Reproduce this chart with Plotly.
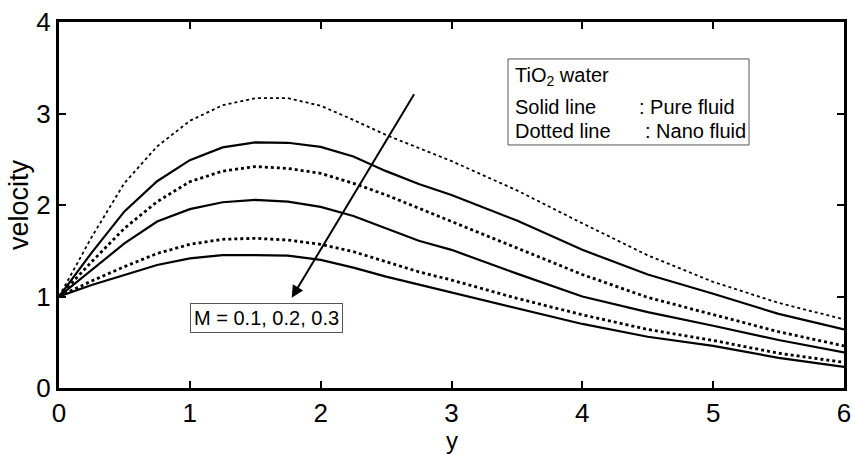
import plotly.graph_objects as go

# ---- data ----
y_pos = [0, 0.25, 0.5, 0.75, 1, 1.25, 1.5, 1.75, 2, 2.25, 2.5, 2.75, 3, 3.5, 4, 4.5, 5, 5.5, 6]

pure_M01 = [1, 1.48, 1.93, 2.26, 2.49, 2.63, 2.685, 2.68, 2.635, 2.53, 2.37, 2.23, 2.11, 1.83, 1.51, 1.24, 1.03, 0.81, 0.64]
pure_M02 = [1, 1.29, 1.58, 1.82, 1.955, 2.03, 2.055, 2.036, 1.98, 1.88, 1.745, 1.61, 1.51, 1.25, 1.0, 0.83, 0.68, 0.525, 0.39]
pure_M03 = [1, 1.125, 1.235, 1.344, 1.417, 1.453, 1.453, 1.446, 1.40, 1.315, 1.217, 1.13, 1.05, 0.87, 0.70, 0.56, 0.46, 0.33, 0.23]

nano_M01 = [1, 1.65, 2.24, 2.64, 2.92, 3.09, 3.167, 3.167, 3.085, 2.93, 2.765, 2.62, 2.48, 2.16, 1.80, 1.45, 1.16, 0.93, 0.75]
nano_M02 = [1, 1.38, 1.745, 2.036, 2.255, 2.37, 2.42, 2.40, 2.346, 2.237, 2.11, 1.964, 1.82, 1.53, 1.24, 0.99, 0.80, 0.615, 0.46]
nano_M03 = [1, 1.17, 1.326, 1.47, 1.57, 1.625, 1.636, 1.617, 1.57, 1.49, 1.38, 1.27, 1.18, 0.98, 0.80, 0.64, 0.52, 0.38, 0.28]

x_ticks = [0, 1, 2, 3, 4, 5, 6]
y_ticks = [0, 1, 2, 3, 4]

FONT = "Liberation Sans, Arial, sans-serif"

fig = go.Figure()

series = [
    ("Nano fluid, M = 0.1", nano_M01, dict(color="black", width=1.8, dash="dot")),
    ("Pure fluid, M = 0.1", pure_M01, dict(color="black", width=2.2)),
    ("Nano fluid, M = 0.2", nano_M02, dict(color="black", width=2.8, dash="dot")),
    ("Pure fluid, M = 0.2", pure_M02, dict(color="black", width=2.2)),
    ("Nano fluid, M = 0.3", nano_M03, dict(color="black", width=2.8, dash="dot")),
    ("Pure fluid, M = 0.3", pure_M03, dict(color="black", width=2.2)),
]
for name, vals, line in series:
    fig.add_trace(go.Scatter(x=y_pos, y=vals, mode="lines", name=name, line=line,
                             showlegend=False))

axis_common = dict(
    showline=True, linecolor="black", linewidth=3, mirror="allticks",
    ticks="inside", ticklen=7, tickwidth=2, tickcolor="black",
    showgrid=False, zeroline=False, automargin=False,
    tickfont=dict(family=FONT, size=26, color="black"),
)

fig.update_xaxes(range=[0, 6], tickvals=x_ticks, ticktext=[str(t) for t in x_ticks],
                 **axis_common)
fig.update_yaxes(range=[0, 4], tickvals=y_ticks, ticktext=[str(t) for t in y_ticks],
                 title=dict(text="velocity", font=dict(family=FONT, size=27, color="black"), standoff=0),
                 **axis_common)

# x-axis title placed as a paper annotation below the tick labels
fig.add_annotation(x=0.5, y=-0.101, xref="paper", yref="paper", text="y",
                   showarrow=False, xanchor="center", yanchor="top",
                   font=dict(family=FONT, size=24, color="black"))

# legend-like text box
fig.add_shape(type="rect", xref="x", yref="y", x0=3.432, x1=5.274, y0=2.656, y1=3.596,
              line=dict(color="#555555", width=1), fillcolor="white", layer="above")
tfont = dict(family=FONT, size=20, color="black")
fig.add_annotation(x=3.47, y=3.40, xref="x", yref="y", text="TiO<sub>2</sub> water",
                   showarrow=False, xanchor="left", yanchor="middle", font=tfont)
fig.add_annotation(x=3.47, y=3.07, xref="x", yref="y", text="Solid line",
                   showarrow=False, xanchor="left", yanchor="middle", font=tfont)
fig.add_annotation(x=4.42, y=3.07, xref="x", yref="y", text=": Pure fluid",
                   showarrow=False, xanchor="left", yanchor="middle", font=tfont)
fig.add_annotation(x=3.47, y=2.81, xref="x", yref="y", text="Dotted line",
                   showarrow=False, xanchor="left", yanchor="middle", font=tfont)
fig.add_annotation(x=4.46, y=2.81, xref="x", yref="y", text=": Nano fluid",
                   showarrow=False, xanchor="left", yanchor="middle", font=tfont)

# arrow showing increasing M
fig.add_annotation(x=1.779, y=0.987, ax=2.721, ay=3.227, xref="x", yref="y",
                   axref="x", ayref="y", text="", showarrow=True,
                   arrowhead=2, arrowsize=1.2, arrowwidth=2, arrowcolor="black")

# M label box
fig.add_annotation(x=1.0, y=0.765, xref="x", yref="y", text="M = 0.1, 0.2, 0.3",
                   showarrow=False, xanchor="left", yanchor="middle", font=tfont,
                   bordercolor="#555555", borderwidth=1, borderpad=3, bgcolor="white")

fig.update_layout(
    width=853, height=454,
    margin=dict(l=59, r=9, t=22, b=66),
    plot_bgcolor="white", paper_bgcolor="white",
    showlegend=False,
)

fig.write_html("out.html")
